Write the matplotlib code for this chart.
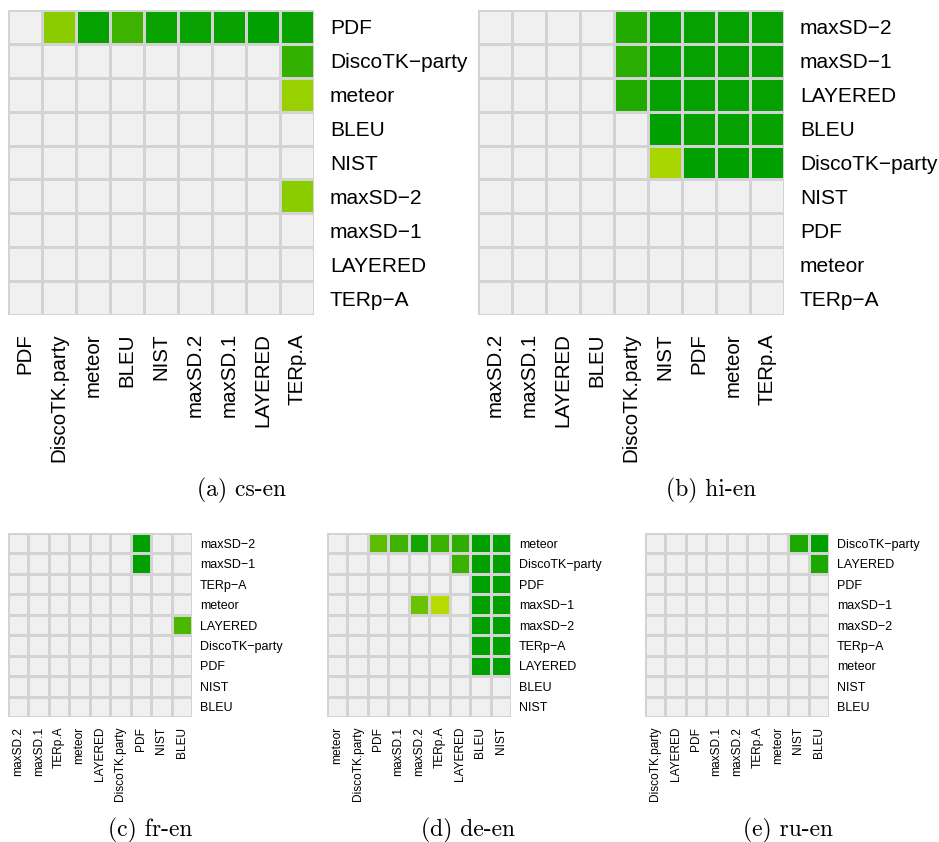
import numpy as np
import matplotlib
matplotlib.use('Agg')
import matplotlib.pyplot as plt
from matplotlib.colors import LinearSegmentedColormap, to_rgb

# strength of the significance (0 = not significant, grey cell)
cs_rows = ['PDF', 'DiscoTK−party', 'meteor', 'BLEU', 'NIST', 'maxSD−2', 'maxSD−1', 'LAYERED', 'TERp−A']
cs_cols = ['PDF', 'DiscoTK.party', 'meteor', 'BLEU', 'NIST', 'maxSD.2', 'maxSD.1', 'LAYERED', 'TERp.A']
cs_vals = [
    [0, 0.29, 0.98, 0.69, 0.95, 0.95, 0.96, 1.0, 0.95],
    [0, 0, 0, 0, 0, 0, 0, 0, 0.74],
    [0, 0, 0, 0, 0, 0, 0, 0, 0.22],
    [0, 0, 0, 0, 0, 0, 0, 0, 0],
    [0, 0, 0, 0, 0, 0, 0, 0, 0],
    [0, 0, 0, 0, 0, 0, 0, 0, 0.29],
    [0, 0, 0, 0, 0, 0, 0, 0, 0],
    [0, 0, 0, 0, 0, 0, 0, 0, 0],
    [0, 0, 0, 0, 0, 0, 0, 0, 0],
]

hi_rows = ['maxSD−2', 'maxSD−1', 'LAYERED', 'BLEU', 'DiscoTK−party', 'NIST', 'PDF', 'meteor', 'TERp−A']
hi_cols = ['maxSD.2', 'maxSD.1', 'LAYERED', 'BLEU', 'DiscoTK.party', 'NIST', 'PDF', 'meteor', 'TERp.A']
hi_vals = [
    [0, 0, 0, 0, 0.83, 0.98, 0.98, 0.98, 0.98],
    [0, 0, 0, 0, 0.79, 0.98, 0.98, 0.98, 0.98],
    [0, 0, 0, 0, 0.83, 0.98, 0.98, 0.98, 0.98],
    [0, 0, 0, 0, 0, 1.0, 0.98, 0.98, 0.97],
    [0, 0, 0, 0, 0, 0.14, 1.0, 1.0, 1.0],
    [0, 0, 0, 0, 0, 0, 0, 0, 0],
    [0, 0, 0, 0, 0, 0, 0, 0, 0],
    [0, 0, 0, 0, 0, 0, 0, 0, 0],
    [0, 0, 0, 0, 0, 0, 0, 0, 0],
]

fr_rows = ['maxSD−2', 'maxSD−1', 'TERp−A', 'meteor', 'LAYERED', 'DiscoTK−party', 'PDF', 'NIST', 'BLEU']
fr_cols = ['maxSD.2', 'maxSD.1', 'TERp.A', 'meteor', 'LAYERED', 'DiscoTK.party', 'PDF', 'NIST', 'BLEU']
fr_vals = [
    [0, 0, 0, 0, 0, 0, 1.0, 0, 0],
    [0, 0, 0, 0, 0, 0, 1.0, 0, 0],
    [0, 0, 0, 0, 0, 0, 0, 0, 0],
    [0, 0, 0, 0, 0, 0, 0, 0, 0],
    [0, 0, 0, 0, 0, 0, 0, 0, 0.62],
    [0, 0, 0, 0, 0, 0, 0, 0, 0],
    [0, 0, 0, 0, 0, 0, 0, 0, 0],
    [0, 0, 0, 0, 0, 0, 0, 0, 0],
    [0, 0, 0, 0, 0, 0, 0, 0, 0],
]

de_rows = ['meteor', 'DiscoTK−party', 'PDF', 'maxSD−1', 'maxSD−2', 'TERp−A', 'LAYERED', 'BLEU', 'NIST']
de_cols = ['meteor', 'DiscoTK.party', 'PDF', 'maxSD.1', 'maxSD.2', 'TERp.A', 'LAYERED', 'BLEU', 'NIST']
de_vals = [
    [0, 0, 0.53, 0.69, 0.9, 0.7, 0.77, 1.0, 1.0],
    [0, 0, 0, 0, 0, 0, 0.7, 1.0, 1.0],
    [0, 0, 0, 0, 0, 0, 0, 1.0, 1.0],
    [0, 0, 0, 0, 0.46, 0.07, 0, 1.0, 1.0],
    [0, 0, 0, 0, 0, 0, 0, 1.0, 1.0],
    [0, 0, 0, 0, 0, 0, 0, 1.0, 1.0],
    [0, 0, 0, 0, 0, 0, 0, 1.0, 1.0],
    [0, 0, 0, 0, 0, 0, 0, 0, 0],
    [0, 0, 0, 0, 0, 0, 0, 0, 0],
]

ru_rows = ['DiscoTK−party', 'LAYERED', 'PDF', 'maxSD−1', 'maxSD−2', 'TERp−A', 'meteor', 'NIST', 'BLEU']
ru_cols = ['DiscoTK.party', 'LAYERED', 'PDF', 'maxSD.1', 'maxSD.2', 'TERp.A', 'meteor', 'NIST', 'BLEU']
ru_vals = [
    [0, 0, 0, 0, 0, 0, 0, 0.86, 1.0],
    [0, 0, 0, 0, 0, 0, 0, 0, 0.86],
    [0, 0, 0, 0, 0, 0, 0, 0, 0],
    [0, 0, 0, 0, 0, 0, 0, 0, 0],
    [0, 0, 0, 0, 0, 0, 0, 0, 0],
    [0, 0, 0, 0, 0, 0, 0, 0, 0],
    [0, 0, 0, 0, 0, 0, 0, 0, 0],
    [0, 0, 0, 0, 0, 0, 0, 0, 0],
    [0, 0, 0, 0, 0, 0, 0, 0, 0],
]

captions = ['(a) cs-en', '(b) hi-en', '(c) fr-en', '(d) de-en', '(e) ru-en']

cmap = LinearSegmentedColormap.from_list('sig', ['#C4DE00', '#00A000'])
GREY = '#F0F0F0'
EDGE = '#D3D3D3'
LABEL_FONT = 'Liberation Sans'


def heat(ax, vals, rows, cols, fs_y, fs_x, pad_y, pad_x):
    v = np.array(vals, dtype=float)
    rgb = cmap(v)[..., :3]
    rgb[v == 0] = to_rgb(GREY)
    ax.pcolormesh(np.arange(v.shape[1] + 1), np.arange(v.shape[0] + 1), rgb,
                  edgecolors=EDGE, linewidth=0.9)
    ax.set_xlim(0, v.shape[1])
    ax.set_ylim(v.shape[0], 0)
    for s in ax.spines.values():
        s.set_visible(False)
    ax.yaxis.tick_right()
    ax.set_yticks(np.arange(len(rows)) + 0.5)
    ax.set_yticklabels(rows, fontsize=fs_y, family=LABEL_FONT)
    ax.set_xticks(np.arange(len(cols)) + 0.5)
    ax.set_xticklabels(cols, fontsize=fs_x, family=LABEL_FONT, rotation=90)
    ax.tick_params(axis='y', length=0, pad=pad_y)
    ax.tick_params(axis='x', length=0, pad=pad_x)


W, H = 939, 842
fig = plt.figure(figsize=(W / 100, H / 100), dpi=100)


def box(x0, y0, x1, y1):
    return [x0 / W, 1 - y1 / H, (x1 - x0) / W, (y1 - y0) / H]


panels = [
    (box(8, 10, 314, 315), cs_vals, cs_rows, cs_cols, 15, 14.8, 11.5, 13),
    (box(478, 10, 784, 315), hi_vals, hi_rows, hi_cols, 15, 14.8, 11.5, 13),
    (box(8, 533, 192, 717), fr_vals, fr_rows, fr_cols, 9.0, 8.6, 5.8, 7),
    (box(327, 533, 511, 717), de_vals, de_rows, de_cols, 9.0, 8.6, 5.8, 7),
    (box(645, 533, 829, 717), ru_vals, ru_rows, ru_cols, 9.0, 8.6, 5.8, 7),
]
for p in panels:
    ax = fig.add_axes(p[0])
    heat(ax, *p[1:])

cap_pos = [(242, 490), (711, 490), (150, 830), (468, 830), (788, 830)]
for (cx, cy), txt in zip(cap_pos, captions):
    fig.text(cx / W, 1 - cy / H, txt, family='cmr10', fontsize=17,
             ha='center', va='center')

fig.savefig('out.png', dpi=100)
